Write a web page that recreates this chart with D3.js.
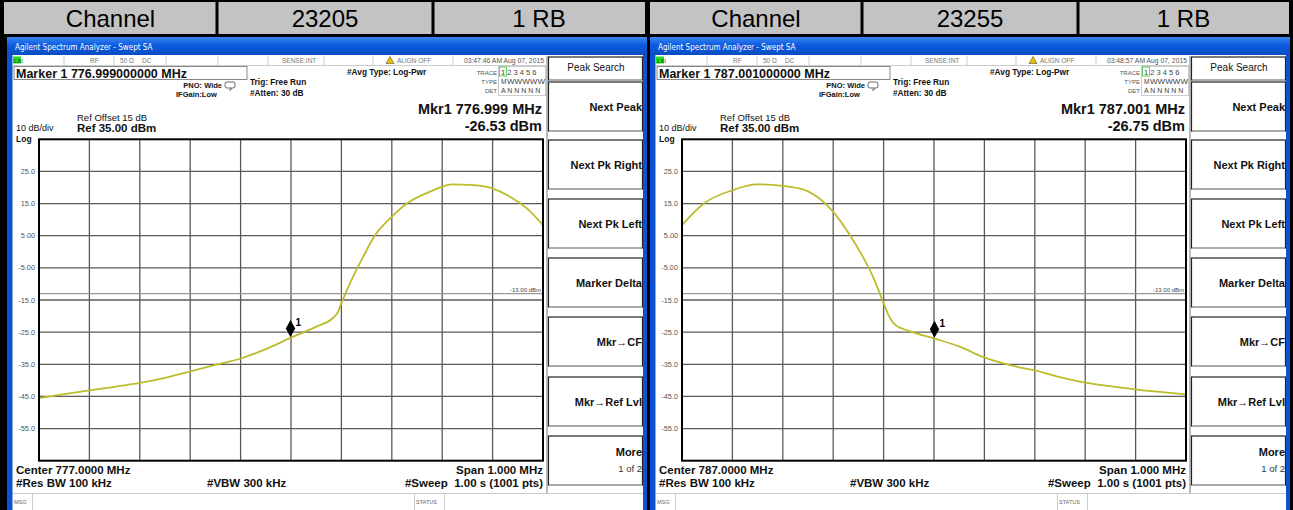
<!DOCTYPE html>
<html><head><meta charset="utf-8">
<script src="https://cdn.jsdelivr.net/npm/d3@7/dist/d3.min.js"></script>
<style>html,body{margin:0;padding:0;background:#000;}svg{display:block;font-family:"Liberation Sans",Arial,sans-serif;}</style>
</head><body>
<svg id="c" width="1293" height="510"></svg>
<script>
// ---------------- data ----------------
const headerLeft = ["Channel", "23205", "1 RB"];
const headerRight = ["Channel", "23255", "1 RB"];
const yTickValues = [25, 15, 5, -5, -15, -25, -35, -45, -55];
const yTickLabels = ["25.0", "15.0", "5.00", "-5.00", "-15.0", "-25.0", "-35.0", "-45.0", "-55.0"];
const softkeys = ["Next Peak", "Next Pk Right", "Next Pk Left", "Marker Delta", "Mkr\u2192CF", "Mkr\u2192Ref Lvl", "More"];
const centers = [777.0, 787.0];
const timestamps = ["03:47:46 AM Aug 07, 2015", "03:48:57 AM Aug 07, 2015"];
const markerFreqs = [776.999, 787.001];
const markerLevels = [-26.53, -26.75];
const markerTitles = ["Marker 1 776.999000000 MHz", "Marker 1 787.001000000 MHz"];
const mkrFreqText = ["Mkr1 776.999 MHz", "Mkr1 787.001 MHz"];
const mkrLevelText = ["-26.53 dBm", "-26.75 dBm"];
const displayLine = -13;

const leftFreq = [776.500, 776.550, 776.600, 776.650, 776.700, 776.750, 776.800, 776.850, 776.900, 776.950,
  776.999, 777.050, 777.083, 777.093, 777.101, 777.123, 777.143, 777.167, 777.200, 777.230,
  777.276, 777.321, 777.355, 777.389, 777.415, 777.440, 777.468, 777.500];
const leftLevel = [-45.5, -44.3, -43.1, -42.0, -40.8, -39.2, -37.2, -35.2, -33.2, -30.3,
  -26.8, -23.3, -20.6, -18.8, -15.6, -7.8, -1.6, 5.2, 10.9, 15.0,
  18.7, 21.0, 20.8, 20.2, 18.7, 16.6, 13.5, 8.3];
const rightFreq = [786.500, 786.544, 786.601, 786.647, 786.700, 786.740, 786.780, 786.800, 786.831, 786.859,
  786.879, 786.899, 786.910, 786.922, 786.950, 787.001, 787.052, 787.097, 787.151, 787.200,
  787.250, 787.300, 787.349, 787.399, 787.448, 787.500];
const rightLevel = [8.3, 15.1, 19.2, 21.0, 20.5, 19.4, 15.6, 12.4, 5.7, -1.6,
  -7.8, -15.6, -19.8, -22.6, -24.6, -27.0, -29.6, -32.7, -35.3, -36.9,
  -39.0, -40.7, -41.8, -42.8, -43.6, -44.4];

// ---------------- drawing ----------------
const svg = d3.select("#c");

const defs = svg.append("defs");
const grad = defs.append("linearGradient").attr("id", "tb").attr("x1", 0).attr("y1", 0).attr("x2", 0).attr("y2", 1);
grad.append("stop").attr("offset", "0%").attr("stop-color", "#3b86f0");
grad.append("stop").attr("offset", "45%").attr("stop-color", "#0c5ce0");
grad.append("stop").attr("offset", "100%").attr("stop-color", "#0a4cc2");

svg.append("rect").attr("width", 1293).attr("height", 510).attr("fill", "#000");

// header tables
function header(x0, seps, x1, labels) {
  const edges = [x0, ...seps, x1];
  for (let i = 0; i < 3; i++) {
    svg.append("rect").attr("x", edges[i] + (i ? 1.5 : 0)).attr("y", 2)
      .attr("width", edges[i + 1] - edges[i] - (i ? 1.5 : 0) - (i < 2 ? 1.5 : 0)).attr("height", 32)
      .attr("fill", "#c3c3c3");
    svg.append("text").attr("x", (edges[i] + edges[i + 1]) / 2).attr("y", 27)
      .attr("text-anchor", "middle").attr("font-size", 24).attr("fill", "#000").text(labels[i]);
  }
}
header(4, [217, 433], 645, headerLeft);
header(650, [862, 1078], 1289, headerRight);

function panel(idx, off, freq, level) {
  const g = svg.append("g").attr("transform", `translate(${off},0)`);
  // frame
  g.append("rect").attr("x", 7).attr("y", 37).attr("width", 640).attr("height", 473).attr("fill", "#0b52d4");
  g.append("rect").attr("x", 7).attr("y", 37).attr("width", 640).attr("height", 18).attr("fill", "url(#tb)");
  g.append("rect").attr("x", 12.5).attr("y", 55).attr("width", 631).attr("height", 455).attr("fill", "#fff");
  g.append("text").attr("x", 15).attr("y", 50).attr("font-size", 8).attr("fill", "#fff")
    .attr("font-family", "'DejaVu Sans Condensed','DejaVu Sans',sans-serif").text("Agilent Spectrum Analyzer - Swept SA");

  // status row
  g.append("line").attr("x1", 13).attr("x2", 546).attr("y1", 65.5).attr("y2", 65.5).attr("stroke", "#ccc");
  [64, 114, 166, 218, 268, 324, 373, 453].forEach(sx =>
    g.append("line").attr("x1", sx).attr("x2", sx).attr("y1", 56).attr("y2", 65).attr("stroke", "#ccc"));
  g.append("rect").attr("x", 13).attr("y", 56.5).attr("width", 8).attr("height", 7).attr("fill", "#22dd22");
  g.append("text").attr("x", 14).attr("y", 62.5).attr("font-size", 6).attr("fill", "#114411").text("LXI");
  const st = [[90, "RF"], [120, "50 \u03a9"], [142, "DC"], [282, "SENSE:INT"], [397, "ALIGN OFF"]];
  st.forEach(([x, t]) => g.append("text").attr("x", x).attr("y", 63).attr("font-size", 6.5).attr("fill", "#777").text(t));
  g.append("path").attr("d", "M386,63.5 L390,56.5 L394,63.5 Z").attr("fill", "#e8c400").attr("stroke", "#333").attr("stroke-width", 0.5);
  g.append("text").attr("x", 544).attr("y", 63).attr("text-anchor", "end").attr("font-size", 6.8).attr("fill", "#555").text(timestamps[idx]);

  // marker box
  g.append("rect").attr("x", 14).attr("y", 66.5).attr("width", 233).attr("height", 13).attr("fill", "#fff").attr("stroke", "#888");
  g.append("text").attr("x", 16).attr("y", 78).attr("font-size", 12.5).attr("font-weight", "bold").attr("fill", "#111").text(markerTitles[idx]);

  const small = (x, y, t, opts = {}) => g.append("text").attr("x", x).attr("y", y)
    .attr("font-size", opts.size || 8).attr("font-weight", opts.w || "bold").attr("fill", opts.c || "#111")
    .attr("text-anchor", opts.a || "start").text(t);
  small(347, 75, "#Avg Type: Log-Pwr", { size: 8.3 });
  small(222, 88, "PNO: Wide", { size: 7.5, a: "end" });
  small(176, 97, "IFGain:Low", { size: 7.5 });
  g.append("rect").attr("x", 225).attr("y", 82).attr("width", 10).attr("height", 6).attr("rx", 2).attr("fill", "none").attr("stroke", "#444").attr("stroke-width", 0.8);
  g.append("path").attr("d", "M231,88 L231,90 L229,90").attr("fill", "none").attr("stroke", "#444").attr("stroke-width", 0.8);
  small(250, 85, "Trig: Free Run", { size: 8.3 });
  small(250, 96, "#Atten: 30 dB", { size: 8.3 });

  // trace table
  g.append("rect").attr("x", 498.5).attr("y", 66.5).attr("width", 47).attr("height", 29).attr("fill", "none").attr("stroke", "#ccc");
  g.append("rect").attr("x", 499.5).attr("y", 67).attr("width", 7).attr("height", 9).attr("fill", "none").attr("stroke", "#3c3").attr("stroke-width", 0.8);
  small(497, 74.5, "TRACE", { size: 6, w: "normal", a: "end", c: "#555" });
  small(497, 84, "TYPE", { size: 6, w: "normal", a: "end", c: "#555" });
  small(497, 93, "DET", { size: 6, w: "normal", a: "end", c: "#555" });
  small(501, 75, "1 2 3 4 5 6", { size: 7.5, w: "normal", c: "#444" });
  small(501, 84, "M", { size: 6.5, w: "normal", c: "#444" });
  small(507, 84, "WWWWW", { size: 6.5, w: "normal", c: "#444" }).attr("textLength", 38).attr("lengthAdjust", "spacingAndGlyphs");
  small(501, 93, "A N N N N N", { size: 7, w: "normal", c: "#444" });

  // marker readout
  small(542, 114, mkrFreqText[idx], { size: 14.5, a: "end" });
  small(542, 131, mkrLevelText[idx], { size: 14.5, a: "end" });
  small(77, 121, "Ref Offset 15 dB", { size: 9.5, w: "normal", c: "#111" });
  small(16, 131, "10 dB/div", { size: 9, w: "normal", c: "#111" });
  small(77, 132, "Ref 35.00 dBm", { size: 11.5 });
  small(16, 141.5, "Log", { size: 8.5 });

  // plot
  const x = d3.scaleLinear().domain([centers[idx] - 0.5, centers[idx] + 0.5]).range([39, 543]);
  const y = d3.scaleLinear().domain([-65, 35]).range([460.7, 139.3]);
  const xDiv = d3.range(11).map(i => centers[idx] - 0.5 + i * 0.1);
  const yDiv = d3.range(11).map(i => 35 - i * 10);
  g.selectAll(".vg").data(xDiv.slice(1, 10)).enter().append("line")
    .attr("x1", d => x(d)).attr("x2", d => x(d)).attr("y1", y(35)).attr("y2", y(-65))
    .attr("stroke", "#5a5a5a").attr("stroke-width", 1.3);
  g.selectAll(".hg").data(yDiv.slice(1, 10)).enter().append("line")
    .attr("x1", x.range()[0]).attr("x2", x.range()[1]).attr("y1", d => y(d)).attr("y2", d => y(d))
    .attr("stroke", "#5a5a5a").attr("stroke-width", 1.3);
  // display line
  g.append("line").attr("x1", 39).attr("x2", 543).attr("y1", y(displayLine)).attr("y2", y(displayLine))
    .attr("stroke", "#999").attr("stroke-width", 1.2);
  g.append("text").attr("x", 541).attr("y", y(displayLine) - 2).attr("text-anchor", "end")
    .attr("font-size", 6).attr("fill", "#444").text(displayLine.toFixed(2) + " dBm");
  // y labels
  g.selectAll(".yl").data(yTickValues).enter().append("text")
    .attr("x", 35).attr("y", d => y(d) + 2.5).attr("text-anchor", "end")
    .attr("font-size", 7.3).attr("fill", "#555").text((d, i) => yTickLabels[i]);
  // trace
  const pts = freq.map((f, i) => [f, level[i]]);
  const line = d3.line().x(d => x(d[0])).y(d => y(d[1])).curve(d3.curveMonotoneX);
  g.append("path").attr("d", line(pts)).attr("fill", "none").attr("stroke", "#bcbc2c").attr("stroke-width", 1.8);
  // border
  g.append("rect").attr("x", 39).attr("y", 139.3).attr("width", 504).attr("height", 321.4)
    .attr("fill", "none").attr("stroke", "#000").attr("stroke-width", 2);
  // marker
  const mx = x(markerFreqs[idx]), my = y(markerLevels[idx]);
  g.append("path").attr("d", `M${mx},${my} L${mx - 4.7},${my - 8.5} L${mx},${my - 17} L${mx + 4.7},${my - 8.5} Z`).attr("fill", "#000");
  g.append("text").attr("x", mx + 5).attr("y", my - 11).attr("font-size", 10).attr("font-weight", "bold").text("1");

  // bottom texts
  small(16, 474, "Center " + centers[idx].toFixed(4) + " MHz", { size: 11.5 });
  small(16, 487, "#Res BW 100 kHz", { size: 11.5 });
  small(207, 487, "#VBW 300 kHz", { size: 11.5 });
  small(543, 474, "Span 1.000 MHz", { size: 11.5, a: "end" });
  small(543, 487, "#Sweep  1.00 s (1001 pts)", { size: 11.5, a: "end" }).attr("xml:space", "preserve");

  // status strip
  g.append("line").attr("x1", 13).attr("x2", 643).attr("y1", 493.5).attr("y2", 493.5).attr("stroke", "#ccc");
  [32.5, 414.5, 444.5].forEach(sx => g.append("line").attr("x1", sx).attr("x2", sx).attr("y1", 494).attr("y2", 510).attr("stroke", "#ccc"));
  small(14, 504, "MSG", { size: 5.5, w: "normal", c: "#666" });
  small(416, 504, "STATUS", { size: 5.5, w: "normal", c: "#666" });

  // softkey panel
  g.append("line").attr("x1", 547).attr("x2", 547).attr("y1", 56).attr("y2", 493).attr("stroke", "#bbb").attr("stroke-width", 2);
  const box = (y0, y1) => {
    g.append("rect").attr("x", 548.5).attr("y", y0).attr("width", 94).attr("height", y1 - y0).attr("fill", "#fff").attr("stroke", "#222").attr("stroke-width", 1.2);
    g.append("line").attr("x1", 549).attr("x2", 642).attr("y1", y1).attr("y2", y1).attr("stroke", "#aaa").attr("stroke-width", 2);
  };
  box(57, 80);
  g.append("text").attr("x", 596).attr("y", 71).attr("text-anchor", "middle").attr("font-size", 10).attr("fill", "#111").text("Peak Search");
  const boxTops = [82, 140, 199, 258, 317, 377, 436];
  softkeys.forEach((s, i) => {
    const t = boxTops[i], b = i === 0 ? 131 : t + 49;
    box(t, b);
    const cy = i === 6 ? t + 20 : (t + b) / 2 + 4;
    g.append("text").attr("x", 642).attr("y", cy).attr("text-anchor", "end").attr("font-size", 11)
      .attr("font-weight", "bold").attr("fill", "#111").text(s);
  });
  g.append("text").attr("x", 642).attr("y", 472).attr("text-anchor", "end").attr("font-size", 9.5).attr("fill", "#333").text("1 of 2");
  // right blue border
  g.append("rect").attr("x", 643).attr("y", 55).attr("width", 4).attr("height", 455).attr("fill", "#0b52d4");
}

panel(0, 0, leftFreq, leftLevel);
panel(1, 643, rightFreq, rightLevel);
</script>
</body></html>
